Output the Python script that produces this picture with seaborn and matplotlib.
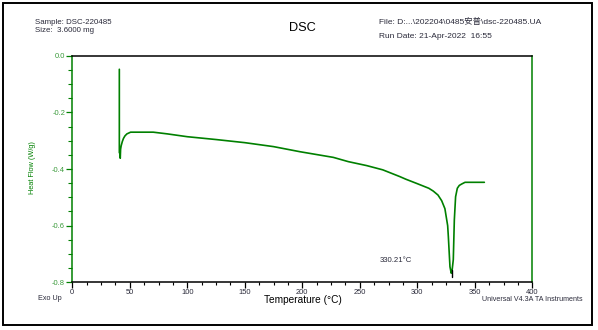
import matplotlib
matplotlib.use("Agg")
import matplotlib.pyplot as plt
from matplotlib.ticker import MultipleLocator, FormatStrFormatter
from matplotlib.patches import Rectangle
import seaborn as sns
import pandas as pd

# ---- data ----
temperature = [40.9, 40.9, 41.3, 41.7, 42.0, 42.5, 43.5, 44.5, 45.8, 47.5, 50.7,
               60.0, 70.4, 82.6, 100.0, 125.0, 150.0, 175.0, 198.0, 206.7, 227.0,
               240.0, 256.0, 270.0, 284.9, 290.0, 299.5, 310.0, 313.9, 318.0,
               321.2, 324.0, 326.4, 327.0, 328.4, 329.5, 330.2, 331.3, 332.2,
               333.3, 334.8, 336.5, 338.6, 341.5, 350.0, 358.3]
heat_flow = [-0.048, -0.342, -0.345, -0.362, -0.330, -0.318, -0.303, -0.292,
             -0.283, -0.276, -0.270, -0.270, -0.270, -0.276, -0.286, -0.296,
             -0.307, -0.321, -0.339, -0.345, -0.359, -0.374, -0.388, -0.403,
             -0.427, -0.436, -0.451, -0.468, -0.478, -0.492, -0.512, -0.540,
             -0.600, -0.639, -0.745, -0.768, -0.760, -0.720, -0.580, -0.498,
             -0.468, -0.458, -0.453, -0.447, -0.447, -0.447]
peak_temp = 330.21
peak_marker = [-0.755, -0.782]
peak_label = "330.21°C"

x_ticks = [0, 50, 100, 150, 200, 250, 300, 350, 400]
y_ticks = [0.0, -0.2, -0.4, -0.6, -0.8]

header_left = ["Sample: DSC-220485", "Size:  3.6000 mg"]
header_right = ["File: D:...\\202204\\0485安普\\dsc-220485.UA", "Run Date: 21-Apr-2022  16:55"]
title = "DSC"
x_label = "Temperature (°C)"
y_label = "Heat Flow (W/g)"
footer_left = "Exo Up"
footer_right = "Universal V4.3A TA Instruments"

df = pd.DataFrame({"T": temperature, "HF": heat_flow})

sns.set_style("white")
plt.rcParams['font.family'] = ['Liberation Sans', 'Noto Sans CJK SC', 'DejaVu Sans']

W, H = 598, 330
fig = plt.figure(figsize=(W / 100, H / 100), dpi=100)
ax = fig.add_axes([72.3 / W, 1 - 282.3 / H, (532.3 - 72.3) / W, (282.3 - 55.7) / H])

green = "#008000"
txt = "#2a2a3a"
sns.lineplot(data=df, x="T", y="HF", sort=False, estimator=None, ax=ax,
             color=green, linewidth=1.2)
ax.plot([peak_temp, peak_temp], peak_marker, color="black", linewidth=1.0)

ax.set_xlim(0, 400)
ax.set_ylim(-0.8, 0.0)
ax.set_xticks(x_ticks)
ax.set_yticks(y_ticks)
ax.xaxis.set_minor_locator(MultipleLocator(12.5))
ax.yaxis.set_minor_locator(MultipleLocator(0.05))
ax.yaxis.set_major_formatter(FormatStrFormatter("%.1f"))

for side in ["left", "right"]:
    ax.spines[side].set_color(green)
    ax.spines[side].set_linewidth(1.1)
for side in ["top", "bottom"]:
    ax.spines[side].set_color("black")
    ax.spines[side].set_linewidth(1.1)

ax.tick_params(axis="x", which="major", direction="out", length=4, width=0.9,
               colors="black", labelcolor=txt, labelsize=5.4, pad=0.8, bottom=True)
ax.tick_params(axis="x", which="minor", direction="out", length=2, width=0.8,
               colors="black", bottom=True)
ax.tick_params(axis="y", which="major", direction="out", length=4, width=0.9,
               color=green, labelcolor="#3a9a3a", labelsize=5.4, pad=1.2, left=True)
ax.tick_params(axis="y", which="minor", direction="out", length=3, width=0.8,
               color=green, left=True)

ax.set_xlabel("")
ax.set_ylabel("")
fig.text(380 / W, 1 - 260 / H, peak_label, fontsize=5.6, color=txt, ha="left", va="center")
fig.text(303 / W, 1 - 300 / H, x_label, fontsize=7.3, ha="center", va="center", color="black")
fig.text(33 / W, 1 - 168 / H, y_label, fontsize=5.3, ha="center", va="center",
         rotation=90, color=green)

fig.text(35 / W, 1 - 22 / H, header_left[0], fontsize=5.7, ha="left", va="center", color=txt)
fig.text(35 / W, 1 - 30.5 / H, header_left[1], fontsize=5.7, ha="left", va="center", color=txt)
fig.text(302 / W, 1 - 28 / H, title, fontsize=9.2, ha="center", va="center", color="black")
fig.text(379 / W, 1 - 22 / H, header_right[0], fontsize=6.0, ha="left", va="center", color=txt)
fig.text(379 / W, 1 - 36 / H, header_right[1], fontsize=6.0, ha="left", va="center", color=txt)
fig.text(38 / W, 1 - 299 / H, footer_left, fontsize=5.2, ha="left", va="center", color=txt)
fig.text(583 / W, 1 - 299.5 / H, footer_right, fontsize=5.1, ha="right", va="center", color=txt)

fig.patches.append(Rectangle((2.5 / W, 1 - 324.5 / H), (592 - 2.5) / W, (324.5 - 3) / H,
                             transform=fig.transFigure, fill=False, edgecolor="black",
                             linewidth=1.4))

fig.savefig("out.png", dpi=100)
